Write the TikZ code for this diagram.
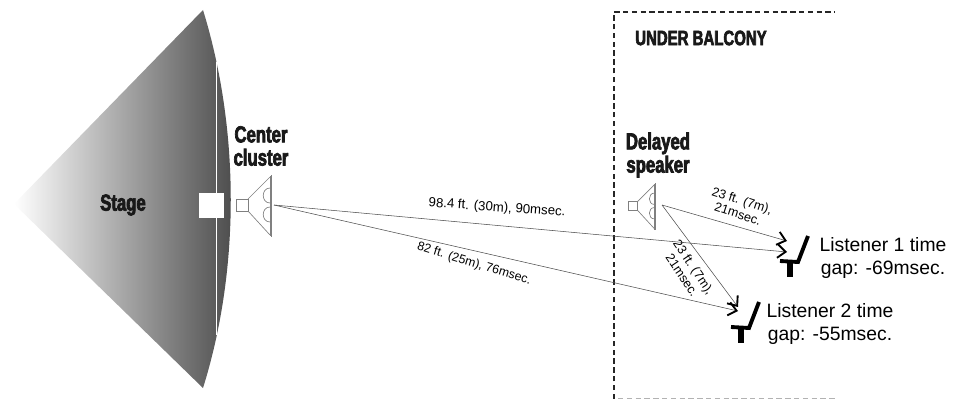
\documentclass[tikz,border=0pt]{standalone}
\usepackage{fontspec}
\setmainfont{Liberation Sans}
\newfontfamily\heavyfont[FakeStretch=0.72,FakeBold=3]{Liberation Sans Bold}
\usetikzlibrary{arrows.meta,positioning,calc}
\tikzset{head/.style={font=\heavyfont\fontsize{17.4}{17.4}\selectfont,align=center,text=black!90,inner sep=0pt},
 dist/.style={font=\fontsize{9.9}{10.5}\selectfont,align=center,inner sep=0pt},
 gaptxt/.style={font=\fontsize{14.5}{17.2}\selectfont,align=center,inner sep=0pt},
 flow/.style={-{Straight Barb[length=6pt,width=10pt,line width=1.4pt,color=black]},black!70,line width=.4pt},
 wall/.style={black!85,line width=1pt,dash pattern=on 4pt off 2.6pt},
 horn/.style={black!50,line width=.5pt},
 speaker/.pic={\draw[horn](-36,-6)rectangle(-24,6);
  \draw[horn](-24,-6)--(-2,-28)(-24,6)--(-2,30);
  \draw[horn](-1,-30)--(-1,32)(-2,-29)--(-2,31);
  \draw[horn](-2,-17).. controls (-11,-17) and (-11,-2) ..(-2,-2);
  \draw[horn](-2,2).. controls (-11,2) and (-11,17) ..(-2,17);},
 seat/.pic={\draw[black,line width=2.9pt](18,-26)--(8,0)--(-10,-1);
  \draw[black,line width=4.8pt](0,0)--(0,15);}}
\begin{document}
\begin{tikzpicture}[x=.75pt,y=-.75pt]
\useasboundingbox (0,0) rectangle (953,399);
% stage
\path[left color=white,right color=black!72,shading angle=90] (14,204)--(203,10).. controls (240,130) and (240,270) ..(203,388)--cycle;
\draw[white,line width=.7pt](216,62)--(216,335);
\node[fill=white,minimum size=18.6pt,inner sep=0pt](mix) at (211.5,205.5){};
\node[head](stage) at (123,205){Stage};
% balcony
\coordinate (wa) at (614,399);\coordinate (wb) at (614,12);\coordinate (wc) at (835,12);
\draw[wall](wa)--(wb)--(wc);
\coordinate (wd) at (618,398.6);\coordinate (we) at (835,398.6);
\draw[black!30,line width=.6pt,dash pattern=on 4pt off 2.6pt](wd)--(we);
\node[head,font=\heavyfont\fontsize{15.6}{16}\selectfont](balc) at (701,38){UNDER BALCONY};
% speakers
\pic at (272,205){speaker};
\pic[scale=.76] at (656,206){speaker};
\node[head](clab) at (261,146){Center\\cluster};
\node[head](dlab) at (658,155){Delayed\\speaker};
% seats
\pic at (790,262){seat};
\pic at (741,328){seat};
\node[gaptxt](la) at (883,258){Listener 1 time\\gap: -69msec.};
\node[gaptxt](lb) at (830,324){Listener 2 time\\gap: -55msec.};
% paths
\coordinate (ca) at (274,205);\coordinate (da) at (662,205);
\coordinate (ta) at (787,252);\coordinate (tb) at (787,241);
\coordinate (tc) at (738,311);\coordinate (td) at (738,307);
\draw[flow](ca)--(ta);\draw[flow](ca)--(tc);
\draw[flow](da)--(tb);\draw[flow](da)--(td);
\node[dist,rotate=-4](pa) at (497,208){98.4 ft. (30m), 90msec.};
\node[dist,rotate=-17,font=\fontsize{9.3}{10}\selectfont](pb) at (474,264){82 ft. (25m), 76msec.};
\node[dist,rotate=-18,font=\fontsize{9.5}{10.5}\selectfont](pc) at (740,207){23 ft. (7m),\\21msec.};
\node[dist,rotate=-56,font=\fontsize{9.5}{10.5}\selectfont](pd) at (688,271){23 ft. (7m),\\21msec.};
\end{tikzpicture}
\end{document}
